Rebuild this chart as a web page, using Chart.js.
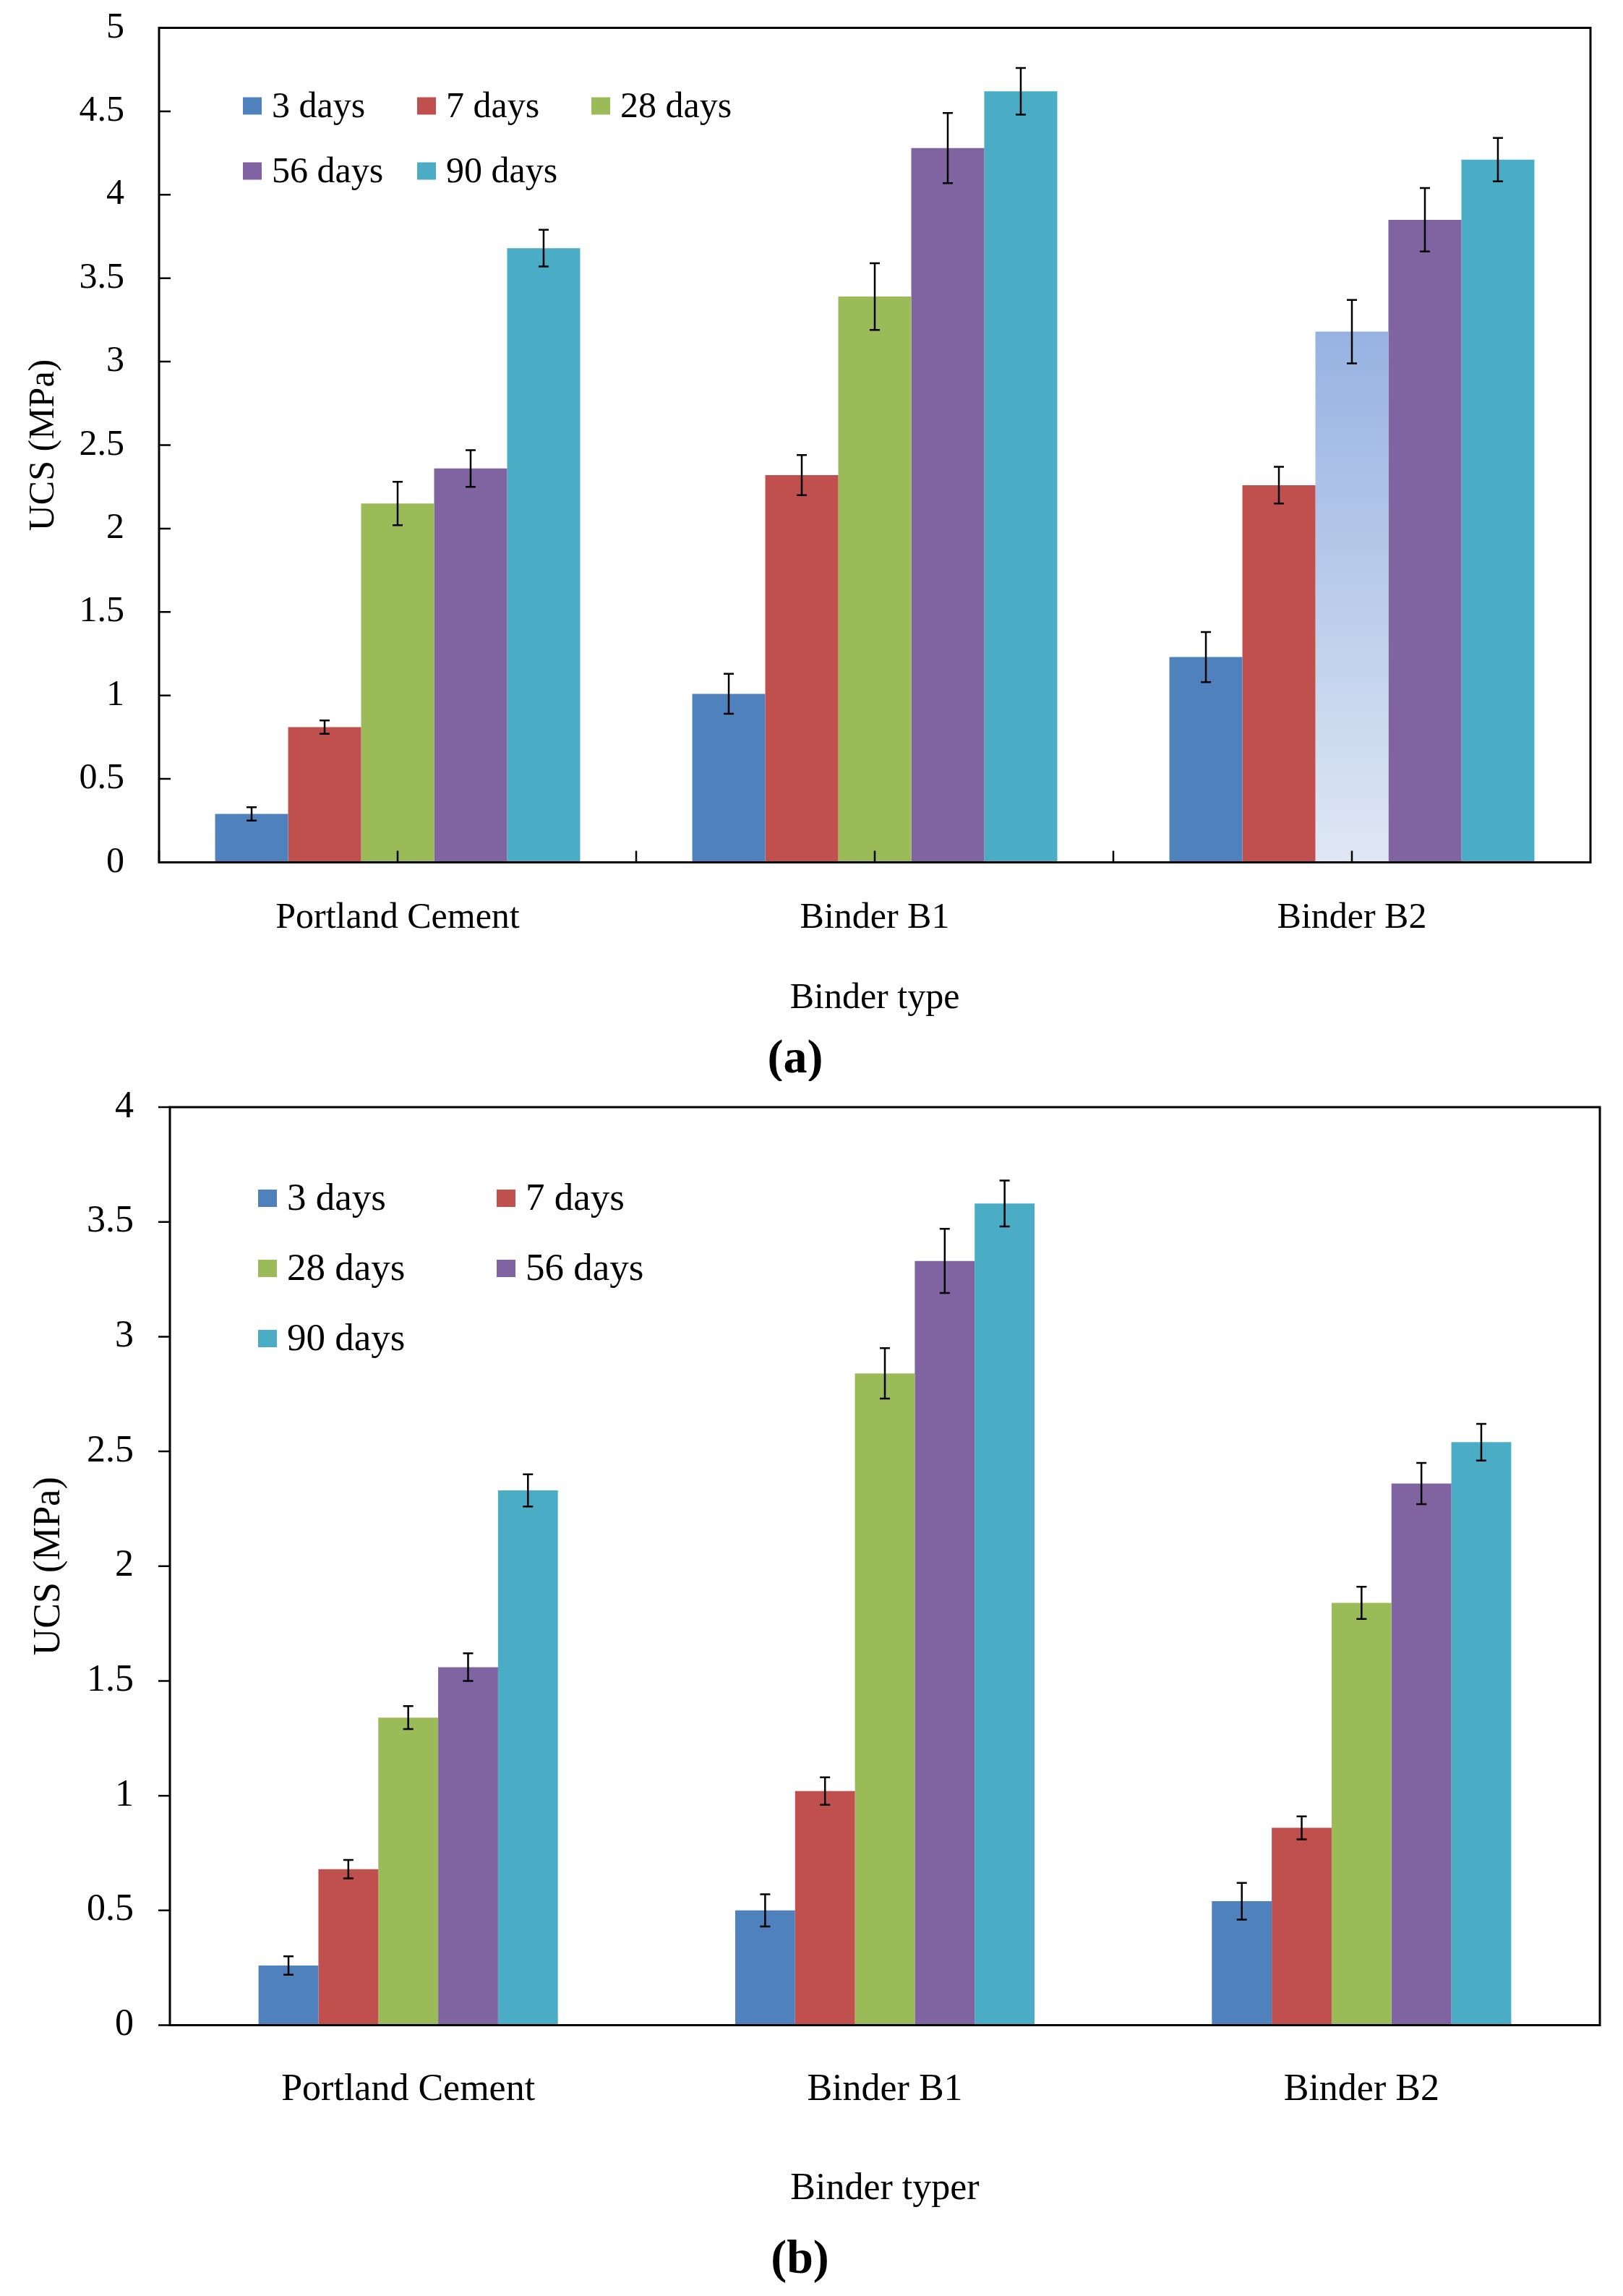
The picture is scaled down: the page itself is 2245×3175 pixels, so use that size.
<!DOCTYPE html>
<html>
<head>
<meta charset="utf-8">
<script src="https://cdn.jsdelivr.net/npm/chart.js@4.4.1/dist/chart.umd.min.js"></script>
<style>
    html, body { margin: 0; padding: 0; background: #fff; }
    #wrapA { position: absolute; left: 0; top: 0; width: 2245px; height: 1495px; }
    #wrapB { position: absolute; left: 0; top: 1495px; width: 2245px; height: 1680px; }
</style>
</head>
<body>
<div id="wrapA"><canvas id="chartA"></canvas></div>
<div id="wrapB"><canvas id="chartB"></canvas></div>
<script>
// Categories / series
const categories = ['Portland Cement', 'Binder B1', 'Binder B2'];
const curingAges = ['3 days', '7 days', '28 days', '56 days', '90 days'];
const seriesColors = ['#4F81BD', '#C0504D', '#9BBB59', '#8064A2', '#4BACC6'];

// (a) mean UCS (MPa) per curing age
const ucsA3 = [0.29, 1.01, 1.23];
const ucsA7 = [0.81, 2.32, 2.26];
const ucsA28 = [2.15, 3.39, 3.18];
const ucsA56 = [2.36, 4.28, 3.85];
const ucsA90 = [3.68, 4.62, 4.21];
// (a) error bars (+/-)
const errA3 = [0.04, 0.12, 0.15];
const errA7 = [0.04, 0.12, 0.11];
const errA28 = [0.13, 0.20, 0.19];
const errA56 = [0.11, 0.21, 0.19];
const errA90 = [0.11, 0.14, 0.13];

// (b) mean UCS (MPa) per curing age
const ucsB3 = [0.26, 0.50, 0.54];
const ucsB7 = [0.68, 1.02, 0.86];
const ucsB28 = [1.34, 2.84, 1.84];
const ucsB56 = [1.56, 3.33, 2.36];
const ucsB90 = [2.33, 3.58, 2.54];
// (b) error bars (+/-)
const errB3 = [0.04, 0.07, 0.08];
const errB7 = [0.04, 0.06, 0.05];
const errB28 = [0.05, 0.11, 0.07];
const errB56 = [0.06, 0.14, 0.09];
const errB90 = [0.07, 0.10, 0.08];

// y axis ranges
const yMaxA = 5, yMaxB = 4, yStep = 0.5;

Chart.defaults.font.family = "'Liberation Serif', 'Times New Roman', serif";
Chart.defaults.color = '#000';

// Error bars drawn from the y scale
const errorBars = {
    id: 'errorBars',
    afterDatasetsDraw(chart) {
        const { ctx } = chart;
        const y = chart.scales.y;
        ctx.save();
        ctx.strokeStyle = '#000';
        ctx.lineWidth = 2.5;
        chart.data.datasets.forEach((ds, i) => {
            chart.getDatasetMeta(i).data.forEach((bar, j) => {
                const v = ds.data[j], e = ds.errors[j];
                const top = y.getPixelForValue(v + e);
                const bot = y.getPixelForValue(v - e);
                ctx.beginPath();
                ctx.moveTo(bar.x, top); ctx.lineTo(bar.x, bot);
                ctx.moveTo(bar.x - 7, top); ctx.lineTo(bar.x + 7, top);
                ctx.moveTo(bar.x - 7, bot); ctx.lineTo(bar.x + 7, bot);
                ctx.stroke();
            });
        });
        ctx.restore();
    }
};

// Box around plot + y tick marks (inside or outside) + inner x ticks
const frame = {
    id: 'frame',
    afterDatasetsDraw(chart, args, opts) {
        const { ctx, chartArea: a, scales } = chart;
        ctx.save();
        ctx.strokeStyle = '#000';
        ctx.lineWidth = 3;
        ctx.strokeRect(a.left, a.top, a.width, a.height);
        ctx.lineWidth = 2.5;
        ctx.beginPath();
        // +len = inward, -len = outward
        const yLen = opts.yTicks;
        scales.y.ticks.forEach(t => {
            const py = scales.y.getPixelForValue(t.value);
            ctx.moveTo(a.left, py); ctx.lineTo(a.left + yLen, py);
        });
        if (opts.xTicks) {
            const x = scales.x;
            const half = a.width / categories.length / 2;
            categories.forEach((c, i) => {
                const px = x.getPixelForValue(i);
                [px - half, px].forEach(p => { ctx.moveTo(p, a.bottom); ctx.lineTo(p, a.bottom - opts.xTicks); });
            });
        }
        ctx.stroke();
        ctx.restore();
    }
};

// Legend placed inside the plot area
const insideLegend = {
    id: 'insideLegend',
    afterDraw(chart, args, o) {
        const { ctx, chartArea: a } = chart;
        ctx.save();
        ctx.font = o.fontSize + "px 'Liberation Serif', serif";
        ctx.textBaseline = 'middle';
        chart.data.datasets.forEach((ds, i) => {
            const col = i % o.cols, row = Math.floor(i / o.cols);
            const bx = a.left + o.x0 + col * o.colW;
            const cy = a.top + o.y0 + row * o.rowH;
            ctx.fillStyle = seriesColors[i];
            ctx.fillRect(bx, cy - 12, 26, 24);
            ctx.fillStyle = '#000';
            ctx.fillText(ds.label, bx + 40, cy + 2);
        });
        ctx.restore();
    }
};

function makeDatasets(values, errors, catPct) {
    return curingAges.map((label, i) => ({
        label,
        data: values[i],
        errors: errors[i],
        backgroundColor: seriesColors[i],
        borderWidth: 0,
        barPercentage: 1,
        categoryPercentage: catPct
    }));
}

function makeOptions(cfg) {
    return {
        responsive: true,
        maintainAspectRatio: false,
        animation: false,
        devicePixelRatio: 1,
        layout: { padding: cfg.padding },
        plugins: {
            legend: { display: false },
            tooltip: { enabled: false },
            title: {
                display: true,
                text: cfg.panel,
                position: 'bottom',
                color: '#000',
                font: { size: 66, weight: 'bold', lineHeight: 1 },
                padding: { top: 10, bottom: cfg.panelPad }
            },
            frame: { yTicks: cfg.yTicks, xTicks: cfg.xTicks },
            insideLegend: cfg.legend
        },
        scales: {
            x: {
                grid: { display: false, drawTicks: false },
                border: { display: false },
                ticks: { padding: cfg.xLabelPad, font: { size: cfg.fontSize }, color: '#000', maxRotation: 0, autoSkip: false },
                title: { display: true, text: cfg.xTitle, color: '#000', font: { size: cfg.fontSize }, padding: { top: 0, bottom: cfg.xTitlePad } },
                afterFit: s => { s.height = cfg.xHeight; }
            },
            y: {
                min: 0,
                max: cfg.yMax,
                // invisible tick marks only reserve the gap between labels and axis
                grid: { display: true, drawOnChartArea: false, drawTicks: true, tickLength: cfg.yLabelGap, color: 'rgba(0,0,0,0)' },
                border: { display: false },
                ticks: {
                    stepSize: yStep, padding: 0, font: { size: cfg.fontSize }, color: '#000',
                    callback: v => String(+v.toFixed(2))
                },
                title: { display: true, text: 'UCS (MPa)', color: '#000', font: { size: cfg.fontSize }, padding: { top: cfg.yTitlePad, bottom: 0 } },
                afterFit: s => { s.width = cfg.yWidth; }
            }
        }
    };
}

// Chart (a)
const dsA = makeDatasets([ucsA3, ucsA7, ucsA28, ucsA56, ucsA90], [errA3, errA7, errA28, errA56, errA90], 0.765);
// Binder B2 at 28 days is shown with a light blue gradient fill
dsA[2].backgroundColor = (c) => {
    if (c.type !== 'data' || c.dataIndex !== 2) return seriesColors[2];
    const chart = c.chart;
    if (!chart.chartArea || !chart.scales.y) return '#B9CAEA';
    const top = chart.scales.y.getPixelForValue(c.raw);
    const g = chart.ctx.createLinearGradient(0, top, 0, chart.chartArea.bottom);
    g.addColorStop(0, '#97B2E2');
    g.addColorStop(1, '#DFE7F4');
    return g;
};

new Chart(document.getElementById('chartA'), {
    type: 'bar',
    data: { labels: categories, datasets: dsA },
    options: makeOptions({
        panel: '(a)', panelPad: -4,
        padding: { top: 38.5, right: 45, left: 0, bottom: 0 },
        fontSize: 50,
        xTitle: 'Binder type', xLabelPad: 47.5, xTitlePad: 12, xHeight: 230.5,
        yMax: yMaxA, yLabelGap: 48, yTitlePad: 31, yWidth: 220,
        yTicks: 16, xTicks: 16,
        legend: { fontSize: 50, cols: 3, x0: 116, colW: 241, y0: 108, rowH: 90 }
    }),
    plugins: [errorBars, frame, insideLegend]
});

// Chart (b)
const dsB = makeDatasets([ucsB3, ucsB7, ucsB28, ucsB56, ucsB90], [errB3, errB7, errB28, errB56, errB90], 0.628);

new Chart(document.getElementById('chartB'), {
    type: 'bar',
    data: { labels: categories, datasets: dsB },
    options: makeOptions({
        panel: '(b)', panelPad: 16,
        padding: { top: 36, right: 32, left: 0, bottom: 0 },
        fontSize: 52,
        xTitle: 'Binder typer', xLabelPad: 59, xTitlePad: 24, xHeight: 282.5,
        yMax: yMaxB, yLabelGap: 50, yTitlePad: 37, yWidth: 235,
        yTicks: -16, xTicks: 0,
        legend: { fontSize: 53, cols: 2, x0: 122, colW: 330, y0: 126, rowH: 97 }
    }),
    plugins: [errorBars, frame, insideLegend]
});
</script>
</body>
</html>
